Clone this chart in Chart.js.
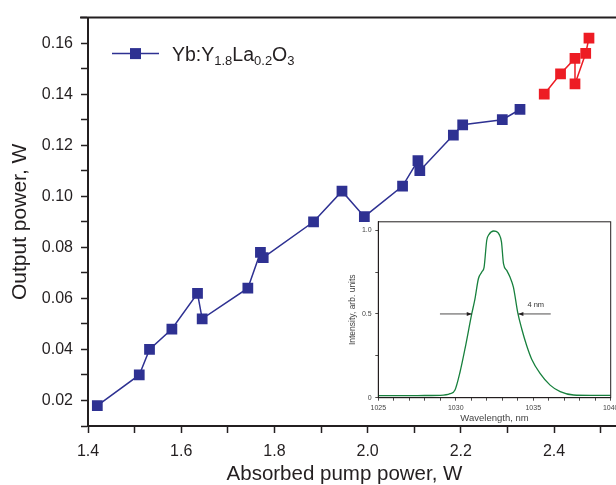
<!DOCTYPE html>
<html><head><meta charset="utf-8">
<script src="https://cdn.jsdelivr.net/npm/chart.js@4/dist/chart.umd.min.js"></script>
<style>
html,body{margin:0;padding:0;background:#fff;overflow:hidden}
#wrap{position:relative;width:616px;height:485px}
#main{position:absolute;left:0;top:0}
#inset{position:absolute;left:340px;top:214px}
</style></head><body>
<div id="wrap">
<canvas id="main" width="616" height="485"></canvas>
<canvas id="inset" width="276" height="210"></canvas>
</div>
<script>
// ---------- data ----------
const legendParts = [['Yb:Y', false], ['1.8', true], ['La', false], ['0.2', true], ['O', false], ['3', true]];
const pumpBlue = [1.42, 1.51, 1.532, 1.58, 1.635, 1.645, 1.743, 1.77, 1.776, 1.884, 1.945, 1.993, 2.075, 2.108, 2.112, 2.184, 2.204, 2.289, 2.327];
const outBlue  = [0.018, 0.030, 0.040, 0.048, 0.062, 0.052, 0.064, 0.078, 0.076, 0.090, 0.102, 0.092, 0.104, 0.114, 0.110, 0.124, 0.128, 0.130, 0.134];
const pumpRed = [2.379, 2.414, 2.445, 2.445, 2.468, 2.475];
const outRed  = [0.140, 0.148, 0.154, 0.144, 0.156, 0.162];
const xMajorTicks = [1.4, 1.6, 1.8, 2.0, 2.2, 2.4];
const yMajorTicks = [0.02, 0.04, 0.06, 0.08, 0.10, 0.12, 0.14, 0.16];

const wavelength = [1025, 1026, 1027, 1028, 1028.98, 1029.63, 1029.95, 1030.28, 1030.6, 1031.03, 1031.24, 1031.46, 1031.68, 1031.83, 1032.0, 1032.15, 1032.45, 1032.6, 1032.8, 1032.95, 1033.08, 1033.29, 1033.5, 1033.72, 1034.0, 1034.26, 1034.58, 1034.9, 1035.44, 1036.09, 1036.74, 1037.6, 1038.67, 1040];
const intensity  = [0.012, 0.012, 0.012, 0.013, 0.014, 0.024, 0.046, 0.155, 0.294, 0.5, 0.59, 0.71, 0.75, 0.78, 0.94, 0.975, 0.995, 0.993, 0.975, 0.93, 0.80, 0.76, 0.72, 0.66, 0.508, 0.41, 0.31, 0.23, 0.145, 0.075, 0.036, 0.016, 0.014, 0.014];
const insetXLabels = [1025, 1030, 1035, 1040];
const insetYLabels = [0, 0.5, 1.0];
const fwhmLeft = [1028.98, 1031.03];
const fwhmRight = [1036.13, 1034.04];
const fwhmLevel = 0.5;
const fwhmText = '4 nm';
const fwhmTextPos = [1035.16, 0.556];

// ---------- styles ----------
const FONT = "'Liberation Sans', Arial, Helvetica, sans-serif";
const INK = '#231f20';
const BLUE = '#2e3192';
const RED = '#ed1c24';
const GREEN = '#17803d';
const near = (arr, v, eps) => arr.find(t => Math.abs(t - v) < eps);

const mainDecor = {
  id: 'mainDecor',
  afterDraw(chart) {
    const {ctx, chartArea: a} = chart;
    ctx.save();
    // top frame line
    ctx.strokeStyle = INK; ctx.lineWidth = 2;
    ctx.beginPath(); ctx.moveTo(a.left - 8, a.top); ctx.lineTo(a.right, a.top); ctx.stroke();
    // legend
    const ly = a.top + 36, lx = a.left + 24;
    ctx.strokeStyle = BLUE; ctx.lineWidth = 1.5;
    ctx.beginPath(); ctx.moveTo(lx, ly); ctx.lineTo(lx + 47, ly); ctx.stroke();
    ctx.fillStyle = BLUE; ctx.fillRect(lx + 23.5 - 5.5, ly - 5.5, 11, 11);
    ctx.fillStyle = INK; ctx.textBaseline = 'alphabetic'; ctx.textAlign = 'left';
    let tx = lx + 60;
    for (const [t, sub] of legendParts) {
      ctx.font = (sub ? '13px ' : '19.5px ') + FONT;
      ctx.fillText(t, tx, ly + (sub ? 11 : 7));
      tx += ctx.measureText(t).width;
    }
    // x title
    ctx.font = '20.5px ' + FONT; ctx.textAlign = 'center'; ctx.textBaseline = 'middle';
    ctx.fillText('Absorbed pump power, W', 344.5, 474.5);
    ctx.restore();
  }
};

new Chart(document.getElementById('main'), {
  type: 'line',
  data: {
    datasets: [
      { data: pumpBlue.map((x, i) => ({x, y: outBlue[i]})), borderColor: BLUE, backgroundColor: BLUE,
        borderWidth: 1.5, pointStyle: 'rect', pointRadius: 7.6, pointBorderWidth: 0, tension: 0 },
      { data: pumpRed.map((x, i) => ({x, y: outRed[i]})), borderColor: RED, backgroundColor: RED,
        borderWidth: 1.5, pointStyle: 'rect', pointRadius: 7.6, pointBorderWidth: 0, tension: 0 }
    ]
  },
  options: {
    responsive: false, animation: false, devicePixelRatio: 1,
    layout: { autoPadding: false, padding: { top: 13, right: 0, left: 0, bottom: 0 } },
    plugins: { legend: { display: false }, tooltip: { enabled: false } },
    scales: {
      x: {
        type: 'linear', min: 1.4, max: 2.533,
        afterFit(s) { s.height = 59; s.paddingRight = 0; },
        border: { display: true, color: INK, width: 2 },
        grid: { drawOnChartArea: false, drawTicks: true, tickLength: 7, tickColor: INK, tickWidth: 1.5 },
        ticks: {
          stepSize: 0.1, includeBounds: false, autoSkip: false, maxRotation: 0, padding: 9,
          color: INK, font: { family: FONT, size: 16 },
          callback(v) { const m = near(xMajorTicks, v, 1e-6); return m !== undefined ? m.toFixed(1) : ''; }
        },
        title: { display: false }
      },
      y: {
        type: 'linear', min: 0.01, max: 0.17,
        afterFit(s) { s.width = 88; },
        border: { display: true, color: INK, width: 2 },
        grid: { drawOnChartArea: false, drawTicks: true, tickLength: 7, tickColor: INK, tickWidth: 1.5 },
        ticks: {
          stepSize: 0.01, autoSkip: false, padding: 8,
          color: INK, font: { family: FONT, size: 16 },
          callback(v) { const m = near(yMajorTicks, v, 1e-7); return m !== undefined ? m.toFixed(2) : ''; }
        },
        title: { display: true, text: 'Output power, W', color: INK,
          font: { family: FONT, size: 21, lineHeight: 1 }, padding: { top: 9.5, bottom: 0 } }
      }
    }
  },
  plugins: [mainDecor]
});

// ---------- inset ----------
const insetDecor = {
  id: 'insetDecor',
  afterDraw(chart) {
    const {ctx, chartArea: a, scales: {x, y}} = chart;
    ctx.save();
    ctx.strokeStyle = INK; ctx.lineWidth = 1;
    ctx.strokeRect(a.left, a.top, a.right - a.left, a.bottom - a.top);
    const yl = y.getPixelForValue(fwhmLevel);
    const arrow = (x0, x1) => {
      const p0 = x.getPixelForValue(x0), p1 = x.getPixelForValue(x1);
      const d = Math.sign(p1 - p0);
      ctx.beginPath(); ctx.moveTo(p0, yl); ctx.lineTo(p1, yl); ctx.stroke();
      ctx.beginPath(); ctx.moveTo(p1, yl); ctx.lineTo(p1 - d * 5, yl - 2); ctx.lineTo(p1 - d * 5, yl + 2); ctx.closePath(); ctx.fill();
    };
    ctx.fillStyle = INK; ctx.strokeStyle = INK; ctx.lineWidth = 0.8;
    arrow(fwhmLeft[0], fwhmLeft[1]);
    arrow(fwhmRight[0], fwhmRight[1]);
    ctx.font = '7.5px ' + FONT; ctx.textAlign = 'center'; ctx.textBaseline = 'middle'; ctx.fillStyle = '#333';
    ctx.fillText(fwhmText, x.getPixelForValue(fwhmTextPos[0]), y.getPixelForValue(fwhmTextPos[1]));
    ctx.restore();
  }
};

new Chart(document.getElementById('inset'), {
  type: 'line',
  data: {
    datasets: [{ data: wavelength.map((x, i) => ({x, y: intensity[i]})), borderColor: GREEN, borderWidth: 1.3,
      pointRadius: 0, cubicInterpolationMode: 'monotone', fill: false }]
  },
  options: {
    responsive: false, animation: false, devicePixelRatio: 1,
    layout: { autoPadding: false, padding: { top: 7, right: 5.3, left: 0, bottom: 0 } },
    plugins: { legend: { display: false }, tooltip: { enabled: false } },
    scales: {
      x: {
        type: 'linear', min: 1025, max: 1040,
        afterFit(s) { s.height = 26.3; s.paddingRight = 0; s.paddingLeft = 0; },
        border: { display: true, color: INK, width: 1 },
        grid: { drawOnChartArea: false, tickLength: 3, tickColor: INK, tickWidth: 0.8 },
        ticks: { stepSize: 1, autoSkip: false, maxRotation: 0, padding: 3.3, color: '#444', font: { family: FONT, size: 7 },
          callback(v) { const m = near(insetXLabels, v, 1e-6); return m !== undefined ? String(m) : ''; } },
        title: { display: true, text: 'Wavelength, nm', color: '#444', font: { family: FONT, size: 9.5, lineHeight: 1 }, padding: { top: 0, bottom: 1.3 } }
      },
      y: {
        type: 'linear', min: 0, max: 1.05,
        afterFit(s) { s.width = 38.3; },
        border: { display: true, color: INK, width: 1 },
        grid: { drawOnChartArea: false, tickLength: 3, tickColor: INK, tickWidth: 0.8 },
        ticks: { stepSize: 0.25, includeBounds: false, autoSkip: false, padding: 3.6, color: '#444', font: { family: FONT, size: 7 },
          callback(v) { const m = near(insetYLabels, v, 1e-6); return m !== undefined ? (m === 0 ? '0' : m.toFixed(1)) : ''; } },
        title: { display: true, text: 'Intensity, arb. units', color: '#444', font: { family: FONT, size: 8.5, lineHeight: 1 }, padding: { top: 8.75, bottom: 0 } }
      }
    }
  },
  plugins: [insetDecor]
});
</script>
</body></html>
